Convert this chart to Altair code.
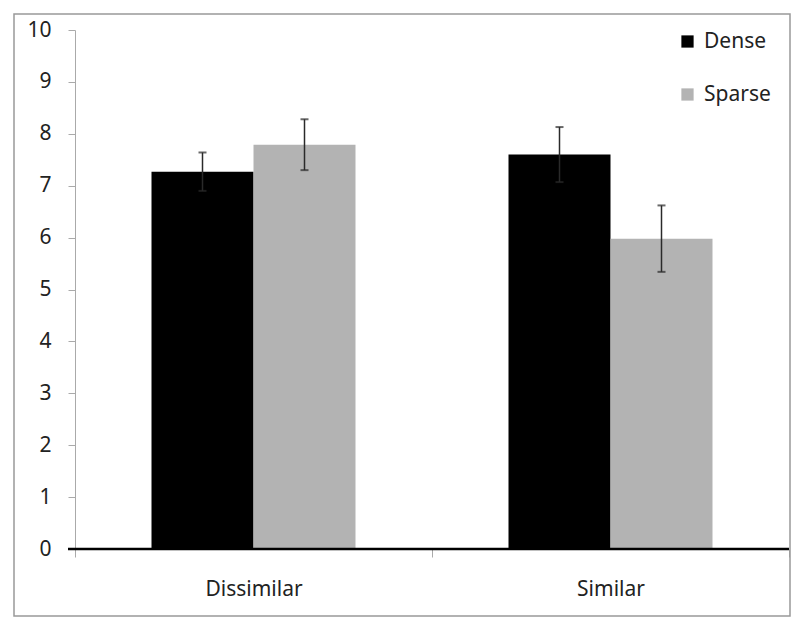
import altair as alt
import pandas as pd

categories = ["Dissimilar", "Dissimilar", "Similar", "Similar"]
series = ["Dense", "Sparse", "Dense", "Sparse"]
means = [7.27, 7.79, 7.60, 5.98]
errors = [0.37, 0.49, 0.53, 0.64]

df = pd.DataFrame({"cat": categories, "grp": series, "mean": means, "err": errors})
df["lo"] = df["mean"] - df["err"]
df["hi"] = df["mean"] + df["err"]

W, H = 714, 519
FONT = "Noto Sans"
FS = 21

x = alt.X("cat:N", title=None,
          scale=alt.Scale(paddingInner=0, paddingOuter=0),
          axis=alt.Axis(labelAngle=0, labelFontSize=FS, labelColor="#222", labelFont=FONT,
                        domain=False, tickBand="extent", tickColor="#aaa", tickSize=8,
                        labelPadding=21))
xo = alt.XOffset("grp:N", scale=alt.Scale(paddingInner=0, paddingOuter=0.75))
y = alt.Y("mean:Q", title=None,
          scale=alt.Scale(domain=[0, 10], nice=False),
          axis=alt.Axis(values=list(range(0, 11)), grid=False, labelFontSize=FS,
                        labelColor="#222", labelFont=FONT, domainColor="#aaa",
                        tickColor="#aaa", tickSize=7, labelPadding=17))

color = alt.Color("grp:N", title=None,
                  scale=alt.Scale(domain=["Dense", "Sparse"], range=["#000000", "#b3b3b3"]),
                  legend=alt.Legend(orient="none", legendX=602, legendY=1, symbolType="square",
                                    symbolSize=150, labelFontSize=FS, labelFont=FONT,
                                    labelColor="#222", rowPadding=31, symbolStrokeWidth=0,
                                    labelOffset=6))

base = alt.Chart(df)
bars = base.mark_bar(size=102).encode(x=x, xOffset=xo, y=y, color=color)
rules = base.mark_rule(color="#2a2a2a", strokeWidth=1.5).encode(
    x=alt.X("cat:N"), xOffset=xo, y=alt.Y("lo:Q"), y2="hi:Q")
caps_hi = base.mark_tick(color="#2a2a2a", size=8, thickness=2).encode(
    x=alt.X("cat:N"), xOffset=xo, y=alt.Y("hi:Q"))
caps_lo = base.mark_tick(color="#2a2a2a", size=8, thickness=2).encode(
    x=alt.X("cat:N"), xOffset=xo, y=alt.Y("lo:Q"))
zero = alt.Chart(pd.DataFrame({"z": [0]})).mark_rule(color="#000", strokeWidth=2.5).encode(
    y=alt.Y("z:Q"), x=alt.value(-7), x2=alt.value(W))
border = alt.Chart(pd.DataFrame({"z": [0]})).mark_rect(
    fill=None, stroke="#999", strokeWidth=1.5, clip=False).encode(
    x=alt.value(-61), x2=alt.value(715), y=alt.value(-16), y2=alt.value(586))

chart = alt.layer(bars, rules, caps_hi, caps_lo, zero, border).properties(
    width=W, height=H,
    autosize=alt.AutoSizeParams(type="none"),
    padding={"left": 67, "top": 22, "right": 3, "bottom": 70},
).configure_view(stroke=None)

chart.save("out.html", embed_options={"renderer": "svg", "actions": False})
